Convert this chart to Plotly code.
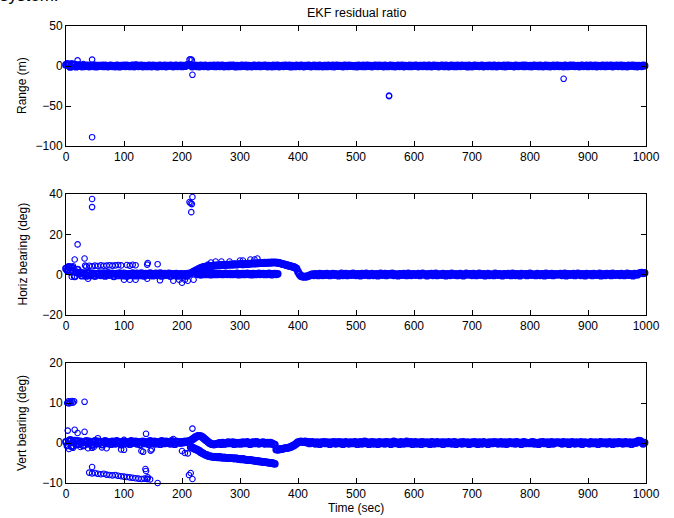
import plotly.graph_objects as go

# ---------------------------------------------------------------------------
# EKF residuals, sampled every 2.5 s over the 1000 s run
# ---------------------------------------------------------------------------
DT = 2.5
TIME = [DT * k for k in range(400)]

# Range residual (m): main track, one row per 50 s
RANGE_MAIN = [
    1.5, 2.6, 0.8, -1.2, 2.2, 1.0, 1.8, -0.9, 0.6, 1.2, 0.4, -0.6, 0.8, -0.3, 0.5, 0.9, -0.7, 0.2, 0.6, -0.4,
    0.7, -0.8, 0.3, 0.5, -0.2, 0.6, -0.5, 0.8, 0.1, -0.7, 0.4, 0.9, -0.3, 0.2, -0.6, 0.7, 0.3, -0.8, 0.5, -0.1,
    0.6, -0.4, 0.8, 0.2, -0.5, 0.4, 0.9, -0.6, 1.2, 0.7, -0.4, 0.3, 0.6, -0.7, 0.5, 0.1, -0.5, 0.8, 0.3, -0.6,
    0.7, -0.2, 0.5, -0.8, 0.4, 0.6, -0.3, 0.2, 0.8, -0.6, 0.5, -0.1, 0.7, 0.3, -0.7, 0.4, 0.6, -0.4, 0.2, 0.8,
    -0.5, 0.3, -0.2, 0.7, 1.5, 1.2, 0.9, -0.6, 0.5, 0.8, -0.3, 0.4, -0.7, 0.6, 0.2, -0.4, 0.7, 0.1, -0.6, 0.5,
    0.3, -0.2, 0.8, -0.5, 0.4, 0.6, -0.3, 0.5, 0.8, -0.6, 0.2, 0.4, -0.5, 0.6, -0.1, 0.7, 0.3, -0.8, 0.5, 0.2,
    -0.5, 0.6, 0.3, -0.2, 0.7, -0.6, 0.4, 0.1, -0.7, 0.5, 0.8, -0.3, 0.2, 0.6, -0.5, 0.4, -0.1, 0.7, 0.3, -0.6,
    0.5, 0.2, -0.6, 0.8, -0.3, 0.4, 0.6, -0.7, 0.1, 0.5, -0.4, 0.7, 0.3, -0.2, 0.6, -0.8, 0.4, 0.2, -0.5, 0.7,
    0.1, -0.4, 0.6, 0.3, -0.7, 0.5, -0.2, 0.8, 0.4, -0.6, 0.2, 0.7, -0.3, 0.5, -0.5, 0.6, 0.1, -0.7, 0.4, 0.3,
    -0.5, 0.7, 0.2, -0.3, 0.6, -0.6, 0.4, 0.8, -0.2, 0.5, 0.1, -0.7, 0.6, 0.3, -0.4, 0.7, -0.1, 0.5, 0.2, -0.5,
    0.4, -0.6, 0.7, 0.2, -0.3, 0.8, -0.5, 0.3, 0.6, -0.2, 0.5, -0.7, 0.1, 0.7, 0.4, -0.4, 0.6, -0.1, 0.3, -0.6,
    0.6, 0.2, -0.5, 0.5, 0.8, -0.3, 0.4, -0.6, 0.2, 0.7, -0.4, 0.3, 0.6, -0.7, 0.5, 0.1, -0.3, 0.8, -0.5, 0.4,
    -0.2, 0.7, 0.4, -0.6, 0.3, 0.5, -0.4, 0.8, 0.1, -0.5, 0.6, 0.3, -0.7, 0.4, 0.7, -0.2, 0.5, -0.6, 0.2, 0.6,
    0.3, -0.5, 0.6, 0.1, -0.7, 0.5, 0.8, -0.3, 0.4, -0.5, 0.7, 0.2, -0.4, 0.6, -0.1, 0.5, 0.3, -0.8, 0.6, 0.2,
    -0.6, 0.4, 0.7, -0.2, 0.5, -0.4, 0.3, 0.8, -0.6, 0.2, 0.5, -0.3, 0.7, 0.1, -0.5, 0.6, 0.4, -0.7, 0.3, 0.5,
    0.2, -0.4, 0.6, -0.7, 0.4, 0.8, -0.2, 0.5, 0.1, -0.6, 0.7, 0.3, -0.4, 0.5, -0.1, 0.6, -0.5, 0.8, 0.2, -0.3,
    0.5, -0.6, 0.3, 0.7, -0.2, 0.4, -0.5, 0.6, 0.2, -0.7, 0.5, 0.8, -0.3, 0.4, -0.6, 0.1, 0.7, -0.4, 0.3, 0.6,
    -0.3, 0.5, 0.2, -0.6, 0.7, 0.4, -0.5, 0.3, 0.8, -0.2, 0.6, -0.4, 0.1, 0.5, -0.7, 0.4, 0.6, -0.3, 0.2, 0.7,
    -0.5, 0.3, 0.6, -0.4, 0.2, 0.8, -0.6, 0.5, 0.1, -0.3, 0.7, 0.4, -0.5, 0.6, -0.2, 0.3, 0.8, -0.6, 0.4, 0.2,
    0.6, -0.4, 0.3, 0.7, -0.5, 0.5, 0.2, -0.7, 0.6, -0.1, 0.4, 0.8, -0.4, 0.3, -0.6, 0.5, 0.2, -0.3, 0.7, 0.4,
]
# Range residual: isolated outliers
RANGE_OUT_T = [10, 20, 30, 45, 45, 213, 215, 217, 218, 557, 557, 858]
RANGE_OUT_V = [3.0, 7.0, 2.5, 8.0, -89.0, 8.0, 8.5, 7.5, -11.0, -37.0, -37.8, -16.0]

# Horizontal bearing residual (deg): main track, one row per 50 s
HORIZ_MAIN = [
    3.0, 2.2, 3.8, 1.5, 3.5, 2.0, -0.8, 1.2, 2.5, 0.6, 1.0, -0.5, 0.7, 0.2, -0.6, 0.5, 0.9, -0.4, 0.3, 0.6,
    -0.7, 0.4, 0.1, 0.8, -0.3, 0.5, 0.7, -0.6, 0.2, 0.9, -0.2, 0.4, 0.6, -0.8, 0.3, 0.5, -0.4, 0.7, 0.1, -0.5,
    0.6, 0.2, -0.7, 0.4, 0.3, -0.3, 0.8, 0.1, -0.5, 0.6, 0.2, -0.4, 0.7, 0.0, -0.6, 0.5, 0.3, -0.2, 0.8, 0.1,
    -0.5, 0.4, 0.6, -0.3, 0.2, 0.7, -0.6, 0.3, 0.5, -0.2, 0.1, 0.6, -0.7, 0.4, 0.2, -0.4, 0.5, 0.3, -0.6, 0.4,
    0.2, -0.5, 0.4, -0.6, 0.5, 0.3, 0.8, 1.0, 1.5, 1.9, 2.2, 2.6, 3.0, 3.3, 3.6, 3.8, 4.0, 4.1, 4.2, 4.4,
    4.4, 4.3, 4.5, 4.6, 4.5, 4.7, 4.6, 4.8, 4.7, 4.9, 4.8, 5.0, 4.9, 5.0, 5.1, 4.9, 5.2, 5.1, 5.0, 5.2,
    5.2, 5.3, 5.1, 5.4, 5.3, 5.2, 5.5, 5.4, 5.6, 5.5, 5.6, 5.5, 5.7, 5.6, 5.8, 5.7, 5.8, 5.9, 5.8, 5.9,
    6.0, 5.9, 6.1, 6.0, 6.1, 6.0, 5.9, 5.8, 5.6, 5.4, 5.2, 5.0, 4.8, 4.6, 4.4, 4.2, 4.0, 3.8, 3.5, 3.0,
    1.5, 0.2, -0.6, -0.9, -1.0, -1.0, -0.9, -0.7, -0.4, -0.1, 0.2, -0.3, 0.4, 0.1, -0.4, 0.5, 0.2, -0.3, 0.4, -0.2,
    0.5, 0.1, -0.4, 0.3, 0.5, -0.2, 0.4, 0.0, -0.5, 0.3, 0.6, -0.3, 0.2, 0.5, -0.4, 0.1, 0.4, -0.2, 0.6, 0.0,
    -0.3, 0.4, 0.2, -0.5, 0.5, 0.1, -0.2, 0.6, 0.3, -0.4, 0.2, 0.5, -0.3, 0.0, 0.4, -0.5, 0.3, 0.6, -0.2, 0.1,
    0.5, -0.4, 0.2, 0.4, -0.1, 0.6, -0.3, 0.3, 0.1, -0.5, 0.4, 0.2, -0.2, 0.5, 0.0, -0.4, 0.6, 0.3, -0.3, 0.2,
    0.4, -0.2, 0.1, 0.5, -0.4, 0.3, 0.6, -0.1, 0.2, -0.5, 0.4, 0.0, 0.5, -0.3, 0.2, 0.6, -0.4, 0.1, 0.3, -0.2,
    0.5, 0.2, -0.5, 0.4, 0.1, -0.3, 0.6, 0.3, -0.2, 0.4, -0.4, 0.2, 0.5, 0.0, -0.5, 0.3, 0.6, -0.1, 0.2, 0.4,
    -0.3, 0.5, 0.1, -0.4, 0.3, 0.6, -0.2, 0.2, 0.4, -0.5, 0.1, 0.5, -0.3, 0.3, 0.0, -0.4, 0.6, 0.2, -0.2, 0.4,
    0.1, -0.5, 0.4, 0.3, -0.2, 0.5, 0.0, -0.4, 0.6, 0.2, -0.3, 0.4, 0.1, -0.5, 0.5, 0.3, -0.1, 0.4, -0.4, 0.2,
    0.6, -0.2, 0.3, 0.0, -0.4, 0.5, 0.2, -0.3, 0.4, 0.1, -0.5, 0.6, 0.2, -0.2, 0.3, 0.5, -0.4, 0.1, 0.4, -0.1,
    0.3, 0.5, -0.3, 0.2, 0.6, -0.5, 0.1, 0.4, -0.2, 0.3, 0.5, -0.4, 0.0, 0.6, 0.2, -0.3, 0.4, 0.1, -0.5, 0.5,
    0.2, -0.1, 0.4, -0.4, 0.5, 0.3, -0.2, 0.1, 0.6, -0.5, 0.3, 0.2, -0.3, 0.5, 0.0, 0.4, -0.4, 0.6, 0.1, -0.2,
    0.4, 0.2, -0.3, 0.5, 0.1, -0.4, 0.3, 0.6, -0.2, 0.4, 0.0, -0.5, 0.5, 0.3, -0.1, 0.6, 0.8, 1.0, 0.7, 0.9,
]
# Horizontal bearing: second track near zero (225-365 s)
HORIZ_LOW_T = [225 + DT * k for k in range(57)]
HORIZ_LOW_V = [
    0.6, 0.2, 0.4, -0.1, 0.3, 0.5, 0.1, 0.4, 0.2, 0.6, 0.0, 0.3, 0.5, 0.1, 0.4, 0.2, 0.5, 0.3, 0.1, 0.4,
    0.6, 0.2, 0.3, 0.5, 0.1, 0.4, 0.2, 0.3, 0.6, 0.0, 0.4, 0.2, 0.5, 0.1, 0.3, 0.6, 0.2, 0.4, 0.0, 0.5,
    0.3, 0.1, 0.4, 0.6, 0.2, 0.3, 0.5, 0.1, 0.4, 0.2, 0.6, 0.3, 0.0, 0.4, 0.5, 0.2, 0.4,
]
# Horizontal bearing: early offset track (~4 deg)
HORIZ_UP_T = [35, 40, 45, 50, 55, 60, 65, 70, 75, 80, 85, 90, 95, 105, 110, 115, 120]
HORIZ_UP_V = [4.0, 4.4, 4.2, 4.5, 4.3, 4.6, 4.4, 4.5, 4.7, 4.5, 4.6, 4.8, 4.6, 4.8, 4.5, 4.9, 4.7]
# Horizontal bearing: isolated outliers
HORIZ_OUT_T = [5, 8, 12, 15, 20, 32, 33, 45, 45, 140, 141, 158, 213, 215, 216, 217, 218,
               10, 38, 100, 110, 120, 140, 162, 185, 195, 200, 205, 210, 220,
               245, 250, 258, 268, 282, 300, 305, 318, 325, 330]
HORIZ_OUT_V = [4.0, 3.5, 4.2, 7.5, 15.0, 8.0, 4.5, 37.5, 33.5, 5.0, 5.8, 5.2, 36.0, 35.5, 31.0, 35.0, 38.5,
               -1.0, -2.0, -2.5, -2.5, -2.5, -2.0, -2.8, -3.0, -2.5, -4.0, -2.5, -3.0, -2.5,
               5.0, 6.0, 6.5, 6.5, 6.5, 7.0, 7.0, 7.5, 7.5, 8.0]

# Vertical bearing residual (deg): main track, one row per 50 s
VERT_MAIN = [
    0.3, -0.6, 0.5, 0.8, -0.8, 0.2, 0.6, -0.4, 0.5, -0.3, 0.4, 0.1, -0.6, 0.3, 0.5, -0.2, 0.4, 0.0, -0.5, 0.3,
    0.5, -0.2, 0.4, 0.0, 0.3, -0.4, 0.2, 0.5, -0.1, 0.3, 0.1, -0.3, 0.4, 0.2, -0.2, 0.5, 0.0, 0.3, -0.4, 0.2,
    0.4, -0.1, 0.3, 0.1, -0.3, 0.5, 0.2, 0.0, 0.4, -0.2, 0.3, -0.4, 0.2, 0.4, -0.1, 0.3, 0.1, -0.3, 0.5, 0.2,
    0.0, 0.4, -0.2, 0.3, 0.1, -0.3, 0.5, 0.2, -0.1, 0.4, 0.0, 0.3, -0.2, 0.5, 0.2, -0.3, 0.4, 0.1, 0.3, 0.0,
    0.3, 0.1, 0.4, 0.2, 0.4, 0.5, 0.6, 0.9, 1.1, 1.4, 1.6, 1.8, 1.8, 1.7, 1.5, 1.2, 0.9, 0.6, 0.3, 0.0,
    -0.2, -0.3, -0.4, -0.3, -0.2, -0.1, 0.0, -0.3, 0.1, -0.2, -0.2, 0.1, 0.2, -0.1, 0.0, 0.2, -0.3, 0.1, 0.0, -0.2,
    0.1, -0.2, 0.2, 0.0, -0.1, 0.3, 0.0, -0.3, 0.1, 0.2, -0.1, 0.3, 0.2, -0.2, 0.0, 0.1, 0.2, -0.2, -0.1, 0.1,
    -0.2, 0.1, -0.1, -0.3, -0.4, -1.6, -1.7, -1.6, -1.5, -1.5, -1.4, -1.3, -1.3, -1.2, -1.1, -1.0, -0.8, -0.6, -0.4, -0.1,
    0.2, 0.3, 0.4, 0.3, 0.2, 0.4, 0.1, 0.3, -0.1, 0.2, 0.3, 0.0, -0.2, 0.2, 0.1, -0.3, 0.2, 0.0, 0.3, -0.1,
    0.2, 0.1, -0.3, 0.2, 0.0, 0.3, -0.2, 0.1, 0.3, -0.1, 0.2, -0.3, 0.1, 0.3, 0.0, -0.2, 0.2, 0.1, -0.1, 0.3,
    0.2, -0.3, 0.1, 0.3, -0.2, 0.0, 0.4, -0.1, 0.2, -0.3, 0.1, 0.3, -0.2, 0.2, 0.0, -0.3, 0.3, 0.1, -0.1, 0.2,
    -0.2, 0.3, 0.0, 0.2, -0.3, 0.1, 0.4, -0.1, 0.2, 0.0, -0.3, 0.3, 0.1, -0.2, 0.2, 0.4, -0.1, 0.0, 0.3, -0.3,
    0.1, 0.3, -0.2, 0.0, 0.2, -0.3, 0.3, 0.1, -0.1, 0.2, 0.0, -0.3, 0.3, 0.2, -0.2, 0.1, 0.3, -0.1, 0.0, 0.2,
    -0.3, 0.2, 0.1, -0.1, 0.3, 0.0, -0.2, 0.2, 0.3, -0.3, 0.1, 0.0, 0.2, -0.2, 0.3, 0.1, -0.1, 0.2, -0.3, 0.0,
    0.2, -0.1, 0.3, 0.0, -0.3, 0.2, 0.1, -0.2, 0.3, 0.0, 0.1, -0.3, 0.2, 0.1, -0.1, 0.3, 0.0, 0.2, -0.2, 0.1,
    0.3, -0.2, 0.1, 0.2, -0.3, 0.0, 0.3, 0.1, -0.1, 0.2, -0.2, 0.3, 0.0, 0.1, -0.3, 0.2, 0.3, -0.1, 0.1, 0.0,
    -0.1, 0.2, 0.3, -0.2, 0.1, 0.0, -0.3, 0.2, 0.1, 0.3, -0.1, 0.0, 0.2, -0.3, 0.1, 0.3, -0.2, 0.0, 0.2, 0.1,
    0.2, 0.0, -0.2, 0.3, 0.1, -0.1, 0.2, -0.3, 0.0, 0.3, 0.1, -0.2, 0.2, 0.0, -0.1, 0.3, -0.3, 0.1, 0.2, 0.0,
    0.1, -0.2, 0.3, 0.0, -0.1, 0.2, 0.1, -0.3, 0.2, 0.3, -0.1, 0.0, 0.2, -0.2, 0.1, 0.3, 0.0, -0.3, 0.2, 0.1,
    -0.1, 0.3, 0.0, 0.2, -0.2, 0.1, 0.3, -0.1, 0.0, 0.2, -0.3, 0.1, 0.2, 0.0, 0.4, 0.6, 0.5, 0.2, -0.2, 0.1,
]
# Vertical bearing: early offset track (~ -8 deg)
VERT_LOW_A_T = [40, 45, 50, 55, 60, 65, 70, 75, 80, 85, 90, 95, 100, 105, 110, 115, 120, 125, 130, 135, 140, 145]
VERT_LOW_A_V = [-7.4, -7.6, -7.5, -7.7, -7.8, -7.7, -7.9, -8.0, -8.1, -8.0, -8.2,
                -8.3, -8.4, -8.5, -8.6, -8.7, -8.8, -8.9, -9.0, -8.9, -9.0, -9.1]
# Vertical bearing: second track after the manoeuvre (215-360 s)
VERT_LOW_B_T = [215 + DT * k for k in range(59)]
VERT_LOW_B_V = [
    -1.0, -1.1, -1.3, -1.5, -1.6, -1.8, -2.0, -2.3, -2.5, -2.7,
    -2.9, -3.0, -3.2, -3.3, -3.4, -3.4, -3.5, -3.5, -3.5, -3.6,
    -3.5, -3.6, -3.7, -3.6, -3.7, -3.7, -3.8, -3.7, -3.8, -3.8,
    -3.9, -3.8, -3.9, -4.0, -4.0, -4.1, -4.0, -4.1, -4.2, -4.2,
    -4.3, -4.2, -4.3, -4.4, -4.4, -4.5, -4.5, -4.6, -4.6, -4.7,
    -4.7, -4.8, -4.8, -4.9, -4.9, -5.0, -5.0, -5.1, -5.2,
]
# Vertical bearing: isolated outliers
VERT_OUT_T = [2, 4, 5, 7, 8, 10, 12, 14, 32,
              3, 15, 20, 32, 55, 138, 218, 185, 100,
              5, 12, 25, 38, 45, 48, 62, 70, 95, 100,
              130, 133, 148, 146, 200, 205, 210, 220, 222,
              137, 138, 140, 141, 158, 212, 215, 218, 45]
VERT_OUT_V = [10.0, 10.4, 9.9, 10.3, 10.0, 10.5, 10.1, 10.4, 10.3,
              3.1, 3.3, 2.5, 2.8, 1.2, 2.3, 3.6, 1.0, 0.8,
              -1.5, -1.2, -1.0, -1.3, -1.2, -1.0, -1.1, -1.3, -1.6, -1.7,
              -2.0, -2.2, -1.6, -1.9, -2.0, -2.5, -2.6, -1.2, -1.5,
              -6.5, -7.0, -9.0, -8.6, -10.0, -8.0, -7.5, -9.0, -6.0]

# (x, y, dense?) per panel; dense tracks are drawn with a heavier ring
PANELS = [
    dict(name="Range (m)", yrange=[-100, 50], dtick=50, series=[
        (TIME, RANGE_MAIN, True), (RANGE_OUT_T, RANGE_OUT_V, False)]),
    dict(name="Horiz bearing (deg)", yrange=[-20, 40], dtick=20, series=[
        (TIME, HORIZ_MAIN, True), (HORIZ_LOW_T, HORIZ_LOW_V, True),
        (HORIZ_UP_T, HORIZ_UP_V, False), (HORIZ_OUT_T, HORIZ_OUT_V, False)]),
    dict(name="Vert bearing (deg)", yrange=[-10, 20], dtick=10, series=[
        (TIME, VERT_MAIN, True), (VERT_LOW_A_T, VERT_LOW_A_V, False),
        (VERT_LOW_B_T, VERT_LOW_B_V, True), (VERT_OUT_T, VERT_OUT_V, False)]),
]

# ---------------------------------------------------------------------------
# Figure: three stacked panels, MATLAB-like boxed axes
# ---------------------------------------------------------------------------
W, H = 674, 518
X_DOM = [66 / W, 646 / W]
Y_PIX = [(26, 146), (194, 315), (363, 483)]   # top/bottom of each panel
FONT = "Liberation Sans, Arial, Helvetica, sans-serif"
BLUE = "#0000FF"

fig = go.Figure()
layout = dict(
    width=W, height=H,
    margin=dict(l=0, r=0, t=0, b=0, autoexpand=False),
    paper_bgcolor="white", plot_bgcolor="white",
    showlegend=False,
    font=dict(family=FONT, size=12, color="black"),
    annotations=[],
)

for i, p in enumerate(PANELS):
    ax = "" if i == 0 else str(i + 1)
    top, bot = Y_PIX[i]
    for xs, ys, dense in p["series"]:
        fig.add_trace(go.Scatter(
            x=xs, y=ys, mode="markers", xaxis="x" + ax, yaxis="y" + ax,
            cliponaxis=False,
            marker=dict(symbol="circle-open", size=6 if dense else 5.5, color=BLUE,
                        line=dict(width=1.8 if dense else 1.1, color=BLUE)),
            hoverinfo="skip",
        ))
    axis_common = dict(
        showline=True, linecolor="black", linewidth=1, mirror="allticks",
        ticks="inside", ticklen=5, tickwidth=1, tickcolor="black",
        showgrid=False, zeroline=False, automargin=False,
        tickfont=dict(family=FONT, size=12, color="black"),
    )
    layout["xaxis" + ax] = dict(
        axis_common, domain=X_DOM, range=[0, 1000], dtick=100, tick0=0,
        anchor="y" + ax,
    )
    layout["yaxis" + ax] = dict(
        axis_common, domain=[1 - bot / H, 1 - top / H], range=p["yrange"],
        dtick=p["dtick"], tick0=0, anchor="x" + ax,
    )
    layout["annotations"].append(dict(
        text=p["name"], textangle=-90, xref="paper", yref="paper",
        x=22 / W, y=1 - (top + bot) / 2 / H, xanchor="center", yanchor="middle",
        showarrow=False, font=dict(family=FONT, size=12, color="black"),
    ))

layout["annotations"].append(dict(
    text="EKF residual ratio", xref="paper", yref="paper",
    x=356 / W, y=1 - 13 / H, xanchor="center", yanchor="middle",
    showarrow=False, font=dict(family=FONT, size=12.5, color="black"),
))
layout["annotations"].append(dict(
    text="Time (sec)", xref="paper", yref="paper",
    x=356 / W, y=1 - 508 / H, xanchor="center", yanchor="middle",
    showarrow=False, font=dict(family=FONT, size=12, color="black"),
))
layout["annotations"].append(dict(
    text="system:", xref="paper", yref="paper",
    x=-2 / W, y=1 - 7 / H, xanchor="left", yanchor="bottom",
    showarrow=False, font=dict(family=FONT, size=17, color="black"),
))

fig.update_layout(**layout)
fig.write_html("out.html")
